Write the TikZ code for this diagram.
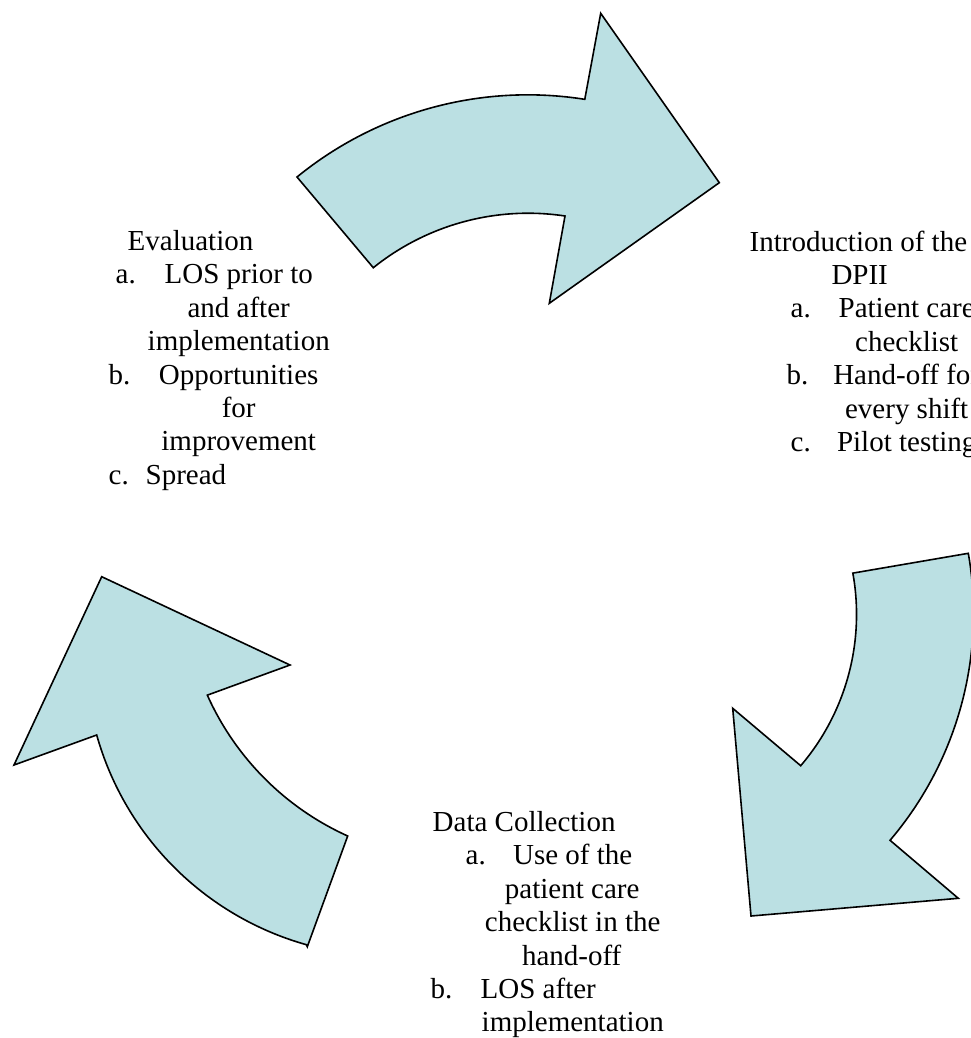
\documentclass[tikz,border=0pt]{standalone}
\usepackage{fontspec}
\setmainfont{Liberation Serif}
\definecolor{arrowfill}{RGB}{187,224,227}
\newcommand\Lt[2]{\makebox[0pt][l]{\hspace*{#1pt}#2}}
\newcommand\Ct[2]{\makebox[0pt][l]{\hspace*{#1pt}\makebox[0pt]{#2}}}
\tikzset{
  cyclearrow/.style={draw=black, line width=1.6pt, fill=arrowfill, line join=miter},
  block/.style={anchor=base west, inner sep=0pt, font=\fontsize{29}{33.4}\selectfont}
}
\begin{document}
\begin{tikzpicture}[x=1pt, y=-1pt]
\useasboundingbox (0,0) rectangle (971,1038);

% top arrow (Evaluation -> Introduction)
\draw[cyclearrow] (297,177) arc[start angle=-129.2, end angle=-81, radius=365]
  -- (600.7,13.3) -- (719.3,182.7) -- (549.3,303.3) -- (565,216)
  arc[start angle=-81.4, end angle=-128.8, radius=247] -- cycle;

% right arrow (Introduction -> Data Collection)
\draw[cyclearrow] (968.3,553.3) arc[start angle=-9.9, end angle=40.4, radius=350]
  -- (958.3,898.3) -- (751,916) -- (732.7,708.3) -- (800.7,765.7)
  arc[start angle=40.5, end angle=-10.2, radius=233] -- cycle;

% left arrow (Data Collection -> Evaluation)
\draw[cyclearrow] (307.3,946.7) -- (347.7,836)
  arc[start angle=114.3, end angle=155.9, radius=280]
  -- (290,665) -- (101.7,576.7) -- (14,765) -- (96.7,735)
  arc[start angle=164.3, end angle=105.7, radius=303] -- cycle;

\node[block] (eval) at (108,250.5) {\begin{tabular}[t]{@{}l@{}}
\Lt{19}{Evaluation}\\
\Lt{7}{a.}\Ct{130}{LOS prior to}\\
\Ct{130}{and after}\\
\Ct{130}{implementation}\\
\Lt{0}{b.}\Ct{130}{Opportunities}\\
\Ct{130}{for}\\
\Ct{130}{improvement}\\
\Lt{0}{c.}\Lt{37}{Spread}
\end{tabular}};

\node[block] (intro) at (749,251) {\begin{tabular}[t]{@{}l@{}}
\Lt{0}{Introduction of the}\\
\Ct{110}{DPII}\\
\Lt{41}{a.}\Ct{157}{Patient care}\\
\Ct{157}{checklist}\\
\Lt{37}{b.}\Ct{157}{Hand-off for}\\
\Ct{157}{every shift}\\
\Lt{41}{c.}\Ct{157}{Pilot testing}
\end{tabular}};

\node[block] (data) at (430,831.5) {\begin{tabular}[t]{@{}l@{}}
\Lt{2}{Data Collection}\\
\Lt{35}{a.}\Ct{142}{Use of the}\\
\Ct{141.5}{patient care}\\
\Ct{142}{checklist in the}\\
\Ct{141}{hand-off}\\
\Lt{0}{b.}\Lt{50}{LOS after}\\
\Lt{51}{implementation}
\end{tabular}};
\end{tikzpicture}
\end{document}
